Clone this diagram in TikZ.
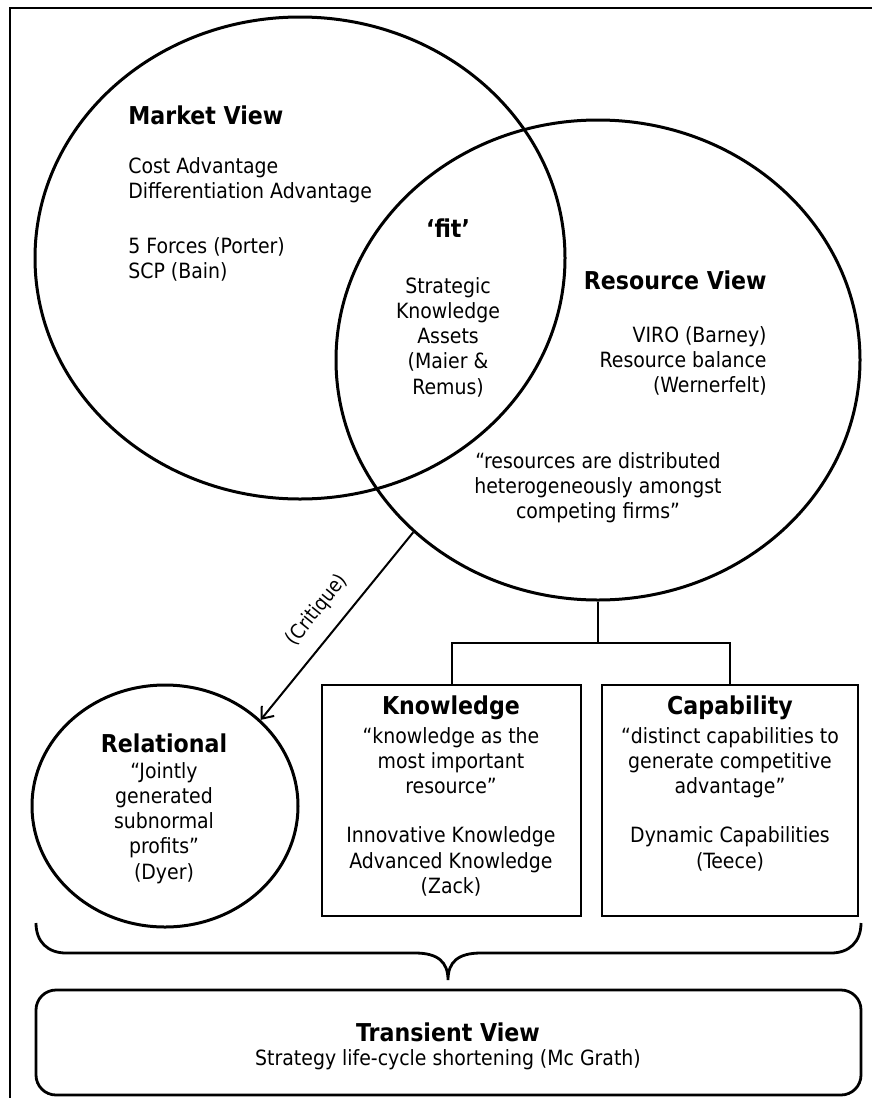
\documentclass[tikz,border=0pt]{standalone}
\usepackage{fontspec}
\setmainfont{DejaVu Sans Condensed}
\usetikzlibrary{arrows.meta,positioning,shapes.geometric}
\tikzset{view/.style={draw,ellipse,line width=1.5pt,inner sep=0pt},panel/.style={draw,line width=1.4pt,inner sep=0pt},head/.style={font=\fontsize{12.3}{14}\selectfont\bfseries,inner sep=0pt},body/.style={font=\fontsize{10.5}{12.6}\selectfont,align=center,inner sep=0pt},link/.style={line width=1pt},critique/.style={link,-{Straight Barb[length=5pt,width=8pt]}}}

\begin{document}
\begin{tikzpicture}[x=0.5pt,y=-0.5pt]
\useasboundingbox (0,0) rectangle (872,1098);
\draw[line width=0.9pt] (10,1098) -- (10,8) -- (872,8);
% the two views and their overlap
\node[view,minimum width=265pt,minimum height=241pt] (market) at (300,258) {};
\node[view,minimum width=262pt,minimum height=240pt] (res) at (598,360) {};
\node[head,anchor=west] (mtitle) at (128,115) {Market View};
\node[body,align=left,anchor=north west] (mlist) at (128,157) {Cost Advantage\\Differentiation Advantage\\[15pt]5 Forces (Porter)\\SCP (Bain)};
\node[head] (fit) at (448,228) {‘fit’};
\node[body,anchor=north] (ska) at (448,277) {Strategic\\Knowledge\\Assets\\(Maier \&\\Remus)};
\node[head,anchor=east] (rtitle) at (767,280) {Resource View};
\node[body,align=right,anchor=north east] (rlist) at (767,326) {VIRO (Barney)\\Resource balance\\(Wernerfelt)};
\node[body,anchor=north] (rquote) at (598,452) {“resources are distributed\\heterogeneously amongst\\competing firms”};
% lower row
\node[view,minimum width=133pt,minimum height=121pt] (rel) at (165,806) {};
\node[head] (reltitle) at (164,743) {Relational};
\node[body,anchor=north] (reltext) at (164,762) {“Jointly\\generated\\subnormal\\profits”\\(Dyer)};
\node[panel,minimum width=129.5pt,minimum height=115.5pt] (know) at (451.5,800.5) {};
\node[head] (ktitle) at (451,708) {Knowledge};
\node[body,anchor=north] (ktext) at (451,727) {“knowledge as the\\most important\\resource”\\[12pt]Innovative Knowledge\\Advanced Knowledge\\(Zack)};
\node[panel,minimum width=128pt,minimum height=115.5pt] (cap) at (730,800.5) {};
\node[head] (ctitle) at (730,708) {Capability};
\node[body,anchor=north] (ctext) at (730,727) {“distinct capabilities to\\generate competitive\\advantage”\\[12pt]Dynamic Capabilities\\(Teece)};
\coordinate (split) at (598,643);
\draw[link] (res.south) -- (split);
\draw[link] (know.north) |- (split) -| (cap.north);
\draw[critique] (res.223) -- node[sloped,above=4pt,font=\fontsize{10}{12}\selectfont] (crit) {(Critique)} (rel.42);
% brace and transient view
\draw[line width=1.4pt] (36,923) .. controls (36,942) and (48,953) .. (66,953) -- (415,953) .. controls (438,953) and (448,962) .. (448,980) .. controls (448,962) and (458,953) .. (481,953) -- (831,953) .. controls (849,953) and (861,942) .. (861,923);
\node[panel,rounded corners=10pt,minimum width=412.5pt,minimum height=52.5pt] (trans) at (448.5,1042.5) {};
\node[head] (ttitle) at (448,1032) {Transient View};
\node[body] (ttext) at (448,1060) {Strategy life-cycle shortening (Mc Grath)};
\end{tikzpicture}
\end{document}
